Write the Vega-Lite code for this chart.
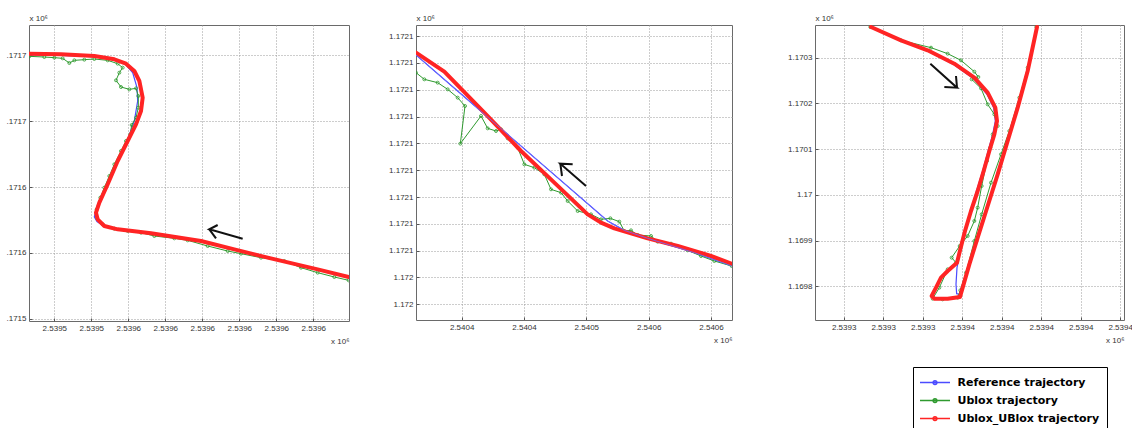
{
"$schema": "https://vega.github.io/schema/vega-lite/v6.json",
"padding": {"left": 5, "top": 13, "right": 0, "bottom": 0},
"autosize": {"type": "pad"},
"datasets": {
"p1r": [{"i":0,"x":2539523.5,"y":1171725.5},{"i":1,"x":2539533,"y":1171725},{"i":2,"x":2539543,"y":1171723.75},{"i":3,"x":2539549,"y":1171721.25},{"i":4,"x":2539552.5,"y":1171718},{"i":5,"x":2539555,"y":1171712.5},{"i":6,"x":2539556.5,"y":1171705},{"i":7,"x":2539557.5,"y":1171692.5},{"i":8,"x":2539557,"y":1171682.5},{"i":9,"x":2539555.5,"y":1171672.5},{"i":10,"x":2539553,"y":1171660},{"i":11,"x":2539550,"y":1171645},{"i":12,"x":2539547,"y":1171627.5},{"i":13,"x":2539544.5,"y":1171613.75},{"i":14,"x":2539543.5,"y":1171606.25},{"i":15,"x":2539544,"y":1171601.25},{"i":16,"x":2539546,"y":1171596.25},{"i":17,"x":2539550,"y":1171593.75},{"i":18,"x":2539560,"y":1171590.75},{"i":19,"x":2539575,"y":1171585},{"i":20,"x":2539585,"y":1171578.75},{"i":21,"x":2539595,"y":1171572.5},{"i":22,"x":2539610,"y":1171563.75},{"i":23,"x":2539619.3,"y":1171558}],
"p1b": [{"i":0,"x":2539523.5,"y":1171724.5},{"i":1,"x":2539533,"y":1171724.25},{"i":2,"x":2539543,"y":1171723.25},{"i":3,"x":2539549,"y":1171721},{"i":4,"x":2539552,"y":1171718.5},{"i":5,"x":2539554.5,"y":1171711.25},{"i":6,"x":2539555.8,"y":1171700},{"i":7,"x":2539556,"y":1171690},{"i":8,"x":2539555,"y":1171675},{"i":9,"x":2539553,"y":1171661.25},{"i":10,"x":2539550,"y":1171645.5},{"i":11,"x":2539547,"y":1171628},{"i":12,"x":2539544,"y":1171612.5},{"i":13,"x":2539543,"y":1171603},{"i":14,"x":2539543.8,"y":1171599.5},{"i":15,"x":2539546,"y":1171596},{"i":16,"x":2539550,"y":1171593.5},{"i":17,"x":2539560,"y":1171590.5},{"i":18,"x":2539575,"y":1171584.75},{"i":19,"x":2539595,"y":1171572.25},{"i":20,"x":2539619.3,"y":1171557.75}],
"p1g": [{"i":0,"x":2539523.5,"y":1171723.5},{"i":1,"x":2539528,"y":1171723},{"i":2,"x":2539531,"y":1171722.5},{"i":3,"x":2539533.5,"y":1171722},{"i":4,"x":2539535.5,"y":1171718.5},{"i":5,"x":2539537,"y":1171720.5},{"i":6,"x":2539540,"y":1171721},{"i":7,"x":2539543,"y":1171721.5},{"i":8,"x":2539547,"y":1171720.5},{"i":9,"x":2539550,"y":1171718},{"i":10,"x":2539551.5,"y":1171715},{"i":11,"x":2539550.5,"y":1171711.25},{"i":12,"x":2539549.5,"y":1171705.5},{"i":13,"x":2539551,"y":1171700.5},{"i":14,"x":2539553.5,"y":1171698.75},{"i":15,"x":2539555.5,"y":1171699.5},{"i":16,"x":2539556.2,"y":1171693.75},{"i":17,"x":2539556.2,"y":1171685},{"i":18,"x":2539555.5,"y":1171677.5},{"i":19,"x":2539554.2,"y":1171672},{"i":20,"x":2539553.8,"y":1171665},{"i":21,"x":2539552.5,"y":1171660},{"i":22,"x":2539551,"y":1171652.5},{"i":23,"x":2539549,"y":1171642.5},{"i":24,"x":2539547.5,"y":1171633.75},{"i":25,"x":2539546,"y":1171625},{"i":26,"x":2539544.8,"y":1171617.5},{"i":27,"x":2539543.7,"y":1171608.75},{"i":28,"x":2539543.8,"y":1171602.5},{"i":29,"x":2539545.5,"y":1171597.5},{"i":30,"x":2539549,"y":1171594.25},{"i":31,"x":2539553,"y":1171592.5},{"i":32,"x":2539557,"y":1171591.25},{"i":33,"x":2539561,"y":1171588.75},{"i":34,"x":2539567,"y":1171587},{"i":35,"x":2539571,"y":1171585.5},{"i":36,"x":2539577,"y":1171581.25},{"i":37,"x":2539583,"y":1171577.5},{"i":38,"x":2539587,"y":1171575.5},{"i":39,"x":2539593,"y":1171572.5},{"i":40,"x":2539600,"y":1171570},{"i":41,"x":2539605,"y":1171565},{"i":42,"x":2539610,"y":1171561.25},{"i":43,"x":2539615,"y":1171558},{"i":44,"x":2539619.3,"y":1171555.5}],
"p1a": [{"part":"a","k":0,"x":2539587.5,"y":1171586.75},{"part":"a","k":1,"x":2539577.5,"y":1171593.75},{"part":"a","k":2,"x":2539580,"y":1171597},{"part":"b","k":0,"x":2539577.5,"y":1171593.75},{"part":"b","k":1,"x":2539579.5,"y":1171587}],
"p2r": [{"i":0,"x":2540330,"y":1172128.625},{"i":1,"x":2540358.33,"y":1172121.5},{"i":2,"x":2540398.33,"y":1172106.125},{"i":3,"x":2540435,"y":1172091.75},{"i":4,"x":2540468.33,"y":1172079.875},{"i":5,"x":2540501.67,"y":1172068},{"i":6,"x":2540515,"y":1172064.875},{"i":7,"x":2540528.33,"y":1172062.75},{"i":8,"x":2540561.67,"y":1172059},{"i":9,"x":2540591.67,"y":1172056.125},{"i":10,"x":2540625,"y":1172052.375},{"i":11,"x":2540645.67,"y":1172049.5}],
"p2b": [{"i":0,"x":2540330,"y":1172127.75},{"i":1,"x":2540521.67,"y":1172065.5},{"i":2,"x":2540538.33,"y":1172062},{"i":3,"x":2540561.67,"y":1172059},{"i":4,"x":2540608.33,"y":1172053.625},{"i":5,"x":2540645.67,"y":1172048.625}],
"p2g": [{"i":0,"x":2540330,"y":1172121.125},{"i":1,"x":2540338.33,"y":1172118.625},{"i":2,"x":2540351.67,"y":1172117.375},{"i":3,"x":2540361.67,"y":1172114.875},{"i":4,"x":2540371.67,"y":1172111.75},{"i":5,"x":2540379,"y":1172108.625},{"i":6,"x":2540374.33,"y":1172094.5},{"i":7,"x":2540395,"y":1172104.875},{"i":8,"x":2540401.67,"y":1172100.25},{"i":9,"x":2540410,"y":1172099.25},{"i":10,"x":2540415,"y":1172099.875},{"i":11,"x":2540421.67,"y":1172096.5},{"i":12,"x":2540431.67,"y":1172093},{"i":13,"x":2540438.33,"y":1172086.75},{"i":14,"x":2540448.33,"y":1172085.5},{"i":15,"x":2540458.33,"y":1172083},{"i":16,"x":2540465,"y":1172077.375},{"i":17,"x":2540475,"y":1172076.125},{"i":18,"x":2540481.67,"y":1172073},{"i":19,"x":2540491.67,"y":1172069.25},{"i":20,"x":2540505,"y":1172068},{"i":21,"x":2540515,"y":1172066.125},{"i":22,"x":2540524.33,"y":1172066.5},{"i":23,"x":2540533.33,"y":1172065.25},{"i":24,"x":2540538.33,"y":1172061.75},{"i":25,"x":2540545,"y":1172062},{"i":26,"x":2540551.67,"y":1172060.25},{"i":27,"x":2540565,"y":1172059.875},{"i":28,"x":2540571.67,"y":1172057.75},{"i":29,"x":2540585,"y":1172057},{"i":30,"x":2540601.67,"y":1172054.5},{"i":31,"x":2540615,"y":1172052.375},{"i":32,"x":2540628.33,"y":1172050.5},{"i":33,"x":2540645.67,"y":1172048.625}],
"p2a": [{"part":"a","k":0,"x":2540500,"y":1172078.625},{"part":"a","k":1,"x":2540474.33,"y":1172087},{"part":"a","k":2,"x":2540486.67,"y":1172086.75},{"part":"b","k":0,"x":2540474.33,"y":1172087},{"part":"b","k":1,"x":2540476,"y":1172082.375}],
"p3r": [{"i":0,"x":2539321.25,"y":1170369},{"i":1,"x":2539332.5,"y":1170339},{"i":2,"x":2539342.5,"y":1170316.5},{"i":3,"x":2539352.5,"y":1170286.5},{"i":4,"x":2539360,"y":1170255},{"i":5,"x":2539365,"y":1170221.25},{"i":6,"x":2539367.875,"y":1170187.5},{"i":7,"x":2539368.5,"y":1170157.5},{"i":8,"x":2539367.5,"y":1170127.5},{"i":9,"x":2539365.625,"y":1170090},{"i":10,"x":2539363.5,"y":1170045},{"i":11,"x":2539361.25,"y":1170000},{"i":12,"x":2539358.75,"y":1169955},{"i":13,"x":2539356.5,"y":1169910},{"i":14,"x":2539354.75,"y":1169868.75},{"i":15,"x":2539353.5,"y":1169838.75},{"i":16,"x":2539350,"y":1169820},{"i":17,"x":2539347.5,"y":1169805},{"i":18,"x":2539345.625,"y":1169782.5},{"i":19,"x":2539344,"y":1169763.75},{"i":20,"x":2539345,"y":1169757.75},{"i":21,"x":2539350,"y":1169757.75},{"i":22,"x":2539354.625,"y":1169761.5},{"i":23,"x":2539355.625,"y":1169782.5},{"i":24,"x":2539358.125,"y":1169835},{"i":25,"x":2539361.25,"y":1169895},{"i":26,"x":2539365,"y":1169966.25},{"i":27,"x":2539368.75,"y":1170037.5},{"i":28,"x":2539372.5,"y":1170112.5},{"i":29,"x":2539376.25,"y":1170187.5},{"i":30,"x":2539380,"y":1170270},{"i":31,"x":2539383.5,"y":1170369}],
"p3b": [{"i":0,"x":2539321.5,"y":1170369},{"i":1,"x":2539342.5,"y":1170315},{"i":2,"x":2539352.5,"y":1170283.5},{"i":3,"x":2539360,"y":1170251.25},{"i":4,"x":2539364.75,"y":1170217.5},{"i":5,"x":2539367.25,"y":1170187.5},{"i":6,"x":2539367.875,"y":1170157.5},{"i":7,"x":2539366.875,"y":1170127.5},{"i":8,"x":2539363.125,"y":1170045},{"i":9,"x":2539358.5,"y":1169955},{"i":10,"x":2539355,"y":1169872.5},{"i":11,"x":2539353.5,"y":1169827.5},{"i":12,"x":2539353.125,"y":1169790},{"i":13,"x":2539353.375,"y":1169769},{"i":14,"x":2539354.375,"y":1169767.5},{"i":15,"x":2539357.5,"y":1169827.5},{"i":16,"x":2539361.25,"y":1169898.75},{"i":17,"x":2539367.5,"y":1170018.75},{"i":18,"x":2539371.875,"y":1170105},{"i":19,"x":2539375.625,"y":1170180},{"i":20,"x":2539380,"y":1170273.75},{"i":21,"x":2539383.25,"y":1170369}],
"p3g": [{"i":0,"x":2539321,"y":1170369},{"i":1,"x":2539332.5,"y":1170339},{"i":2,"x":2539343.75,"y":1170322.5},{"i":3,"x":2539350,"y":1170309},{"i":4,"x":2539355,"y":1170294},{"i":5,"x":2539360,"y":1170268.5},{"i":6,"x":2539361.5,"y":1170256.5},{"i":7,"x":2539359,"y":1170251.25},{"i":8,"x":2539362.5,"y":1170231},{"i":9,"x":2539365,"y":1170195},{"i":10,"x":2539367.5,"y":1170172.5},{"i":11,"x":2539368.75,"y":1170146.25},{"i":12,"x":2539366.875,"y":1170127.5},{"i":13,"x":2539366,"y":1170097.5},{"i":14,"x":2539364.75,"y":1170067.5},{"i":15,"x":2539362.75,"y":1170011.25},{"i":16,"x":2539361.25,"y":1169962.5},{"i":17,"x":2539360,"y":1169932.5},{"i":18,"x":2539357.5,"y":1169898.75},{"i":19,"x":2539354.5,"y":1169876.25},{"i":20,"x":2539351.5,"y":1169850},{"i":21,"x":2539353.125,"y":1169838.75},{"i":22,"x":2539350,"y":1169823.75},{"i":23,"x":2539346.875,"y":1169782.5},{"i":24,"x":2539344.375,"y":1169757.75},{"i":25,"x":2539348.125,"y":1169756.25},{"i":26,"x":2539353.75,"y":1169760},{"i":27,"x":2539354.75,"y":1169776.5},{"i":28,"x":2539356.875,"y":1169816.25},{"i":29,"x":2539360,"y":1169887.5},{"i":30,"x":2539362.75,"y":1169947.5},{"i":31,"x":2539366.25,"y":1170018.75},{"i":32,"x":2539370,"y":1170082.5},{"i":33,"x":2539373.125,"y":1170135},{"i":34,"x":2539376.875,"y":1170210},{"i":35,"x":2539380,"y":1170277.5},{"i":36,"x":2539383.25,"y":1170369}],
"p3a": [{"part":"a","k":0,"x":2539343.5,"y":1170286.5},{"part":"a","k":1,"x":2539353.5,"y":1170232.5},{"part":"a","k":2,"x":2539348.75,"y":1170234},{"part":"b","k":0,"x":2539353.5,"y":1170232.5},{"part":"b","k":1,"x":2539353.125,"y":1170258.75}]
},
"spacing": 67,
"bounds": "flush",
"resolve": {"scale": {"color": "shared"}, "legend": {"color": "shared"}},
"hconcat": [
{
"width": 320, "height": 296,
"encoding": {
"x": {"field": "x", "type": "quantitative", "scale": {"domain": [2539523.4, 2539619.4], "zero": false, "nice": false}, "axis": {"values": [2539531, 2539542.1, 2539553.2, 2539564.3, 2539575.4, 2539586.5, 2539597.6, 2539608.7], "labelExpr": "format(datum.value/1e6,'.5~')", "title": "x 10⁶"}},
"y": {"field": "y", "type": "quantitative", "scale": {"domain": [1171525, 1171747], "zero": false, "nice": false}, "axis": {"values": [1171724.25, 1171674.85, 1171625.45, 1171576.05, 1171526.65], "labelExpr": "slice(format(datum.value/1e6,'.5~'),1)", "title": "x 10⁶"}}
},
"layer": [
{"data": {"name": "p1b"}, "mark": {"type": "line", "strokeWidth": 1.2, "clip": true}, "encoding": {"order": {"field": "i", "type": "quantitative"}, "color": {"datum": "Reference trajectory", "scale": {"domain": ["Reference trajectory", "Ublox trajectory", "Ublox_UBlox trajectory"], "range": ["#4b4bff", "#2f9a2f", "#ff2424"]}, "legend": {"title": null}}}},
{"data": {"name": "p1g"}, "mark": {"type": "line", "strokeWidth": 1, "clip": true}, "encoding": {"order": {"field": "i", "type": "quantitative"}, "color": {"datum": "Ublox trajectory", "legend": {"title": null}}}},
{"data": {"name": "p1g"}, "mark": {"type": "point", "shape": "circle", "filled": false, "size": 9, "strokeWidth": 0.8, "color": "#2f9a2f", "opacity": 1, "clip": true}},
{"data": {"name": "p1r"}, "mark": {"type": "line", "strokeWidth": 4, "strokeJoin": "round", "strokeCap": "round", "clip": true}, "encoding": {"order": {"field": "i", "type": "quantitative"}, "color": {"datum": "Ublox_UBlox trajectory", "legend": {"title": null}}}},
{"data": {"name": "p1a"}, "mark": {"type": "line", "color": "#111111", "strokeWidth": 2, "clip": true}, "encoding": {"detail": {"field": "part"}, "order": {"field": "k", "type": "quantitative"}}}
]
},
{
"spacing": 83,
"bounds": "flush",
"resolve": {"scale": {"color": "shared"}, "legend": {"color": "shared"}},
"hconcat": [
{
"width": 316, "height": 295,
"encoding": {
"x": {"field": "x", "type": "quantitative", "scale": {"domain": [2540330, 2540646], "zero": false, "nice": false}, "axis": {"values": [2540375.67, 2540438, 2540500.33, 2540562.67, 2540625], "labelExpr": "format(datum.value/1e6,'.5~')", "title": "x 10⁶"}},
"y": {"field": "y", "type": "quantitative", "scale": {"domain": [1172028.375, 1172139], "zero": false, "nice": false}, "axis": {"values": [1172134.875, 1172124.8125, 1172114.75, 1172104.6875, 1172094.625, 1172084.5625, 1172074.5, 1172064.4375, 1172054.375, 1172044.3125, 1172034.25], "labelExpr": "format(datum.value/1e6,'.5~')", "title": "x 10⁶"}}
},
"layer": [
{"data": {"name": "p2b"}, "mark": {"type": "line", "strokeWidth": 1.2, "clip": true}, "encoding": {"order": {"field": "i", "type": "quantitative"}, "color": {"datum": "Reference trajectory", "legend": {"title": null}}}},
{"data": {"name": "p2g"}, "mark": {"type": "line", "strokeWidth": 1, "clip": true}, "encoding": {"order": {"field": "i", "type": "quantitative"}, "color": {"datum": "Ublox trajectory", "legend": {"title": null}}}},
{"data": {"name": "p2g"}, "mark": {"type": "point", "shape": "circle", "filled": false, "size": 9, "strokeWidth": 0.8, "color": "#2f9a2f", "opacity": 1, "clip": true}},
{"data": {"name": "p2r"}, "mark": {"type": "line", "strokeWidth": 4, "strokeJoin": "round", "strokeCap": "round", "clip": true}, "encoding": {"order": {"field": "i", "type": "quantitative"}, "color": {"datum": "Ublox_UBlox trajectory", "legend": {"title": null}}}},
{"data": {"name": "p2b"}, "mark": {"type": "line", "strokeWidth": 1, "color": "#6d6dff", "opacity": 0.8, "clip": true}, "encoding": {"order": {"field": "i", "type": "quantitative"}}},
{"data": {"name": "p2a"}, "mark": {"type": "line", "color": "#111111", "strokeWidth": 2, "clip": true}, "encoding": {"detail": {"field": "part"}, "order": {"field": "k", "type": "quantitative"}}}
]
},
{
"width": 309, "height": 295,
"encoding": {
"x": {"field": "x", "type": "quantitative", "scale": {"domain": [2539300.25, 2539416.125], "zero": false, "nice": false}, "axis": {"values": [2539311, 2539325.8125, 2539340.625, 2539355.4375, 2539370.25, 2539385.0625, 2539399.875, 2539414.6875], "labelExpr": "format(datum.value/1e6,'.5~')", "title": "x 10⁶"}},
"y": {"field": "y", "type": "quantitative", "scale": {"domain": [1169709.75, 1170373.5], "zero": false, "nice": false}, "axis": {"values": [1170300, 1170197.1, 1170094.2, 1169991.3, 1169888.4, 1169785.5], "labelExpr": "format(datum.value/1e6,'.5~')", "title": "x 10⁶"}}
},
"layer": [
{"data": {"name": "p3b"}, "mark": {"type": "line", "strokeWidth": 1.2, "clip": true}, "encoding": {"order": {"field": "i", "type": "quantitative"}, "color": {"datum": "Reference trajectory", "legend": {"title": null}}}},
{"data": {"name": "p3g"}, "mark": {"type": "line", "strokeWidth": 1, "clip": true}, "encoding": {"order": {"field": "i", "type": "quantitative"}, "color": {"datum": "Ublox trajectory", "legend": {"title": null}}}},
{"data": {"name": "p3g"}, "mark": {"type": "point", "shape": "circle", "filled": false, "size": 9, "strokeWidth": 0.8, "color": "#2f9a2f", "opacity": 1, "clip": true}},
{"data": {"name": "p3r"}, "mark": {"type": "line", "strokeWidth": 4, "strokeJoin": "round", "strokeCap": "round", "clip": true}, "encoding": {"order": {"field": "i", "type": "quantitative"}, "color": {"datum": "Ublox_UBlox trajectory", "legend": {"title": null}}}},
{"data": {"name": "p3a"}, "mark": {"type": "line", "color": "#111111", "strokeWidth": 2, "clip": true}, "encoding": {"detail": {"field": "part"}, "order": {"field": "k", "type": "quantitative"}}}
]
}
]
}
],
"config": {
"view": {"stroke": "#6a6a6a", "strokeWidth": 1},
"axis": {"domain": false, "grid": true, "gridColor": "#9a9a9a", "gridDash": [1, 2], "gridWidth": 1, "ticks": true, "tickSize": -3, "tickColor": "#555555", "labelPadding": 6, "labelFont": "Liberation Sans", "labelFontSize": 8, "labelColor": "#333333", "labelOverlap": false, "labelFlush": false, "labelBound": false, "titleFont": "Liberation Sans", "titleFontSize": 8, "titleFontWeight": "normal", "titleColor": "#333333"},
"axisX": {"titleAnchor": "end", "titleAlign": "right", "titlePadding": 5},
"axisY": {"titleAngle": 0, "titleX": 0, "titleY": -5, "titleAlign": "left", "titleBaseline": "alphabetic"},
"legend": {"orient": "none", "legendX": 884, "legendY": 342, "strokeColor": "#000000", "fillColor": "#ffffff", "padding": 7, "cornerRadius": 0, "symbolType": "M-2,0H2M0.25,0A0.25,0.25,0,1,1,-0.25,0A0.25,0.25,0,1,1,0.25,0", "symbolSize": 225, "symbolStrokeWidth": 1.5, "symbolOffset": 6.5, "labelOffset": 14, "rowPadding": 4, "labelFont": "DejaVu Sans", "labelFontSize": 11, "labelFontWeight": "bold", "labelColor": "#000000", "labelLimit": 300}
}
}
